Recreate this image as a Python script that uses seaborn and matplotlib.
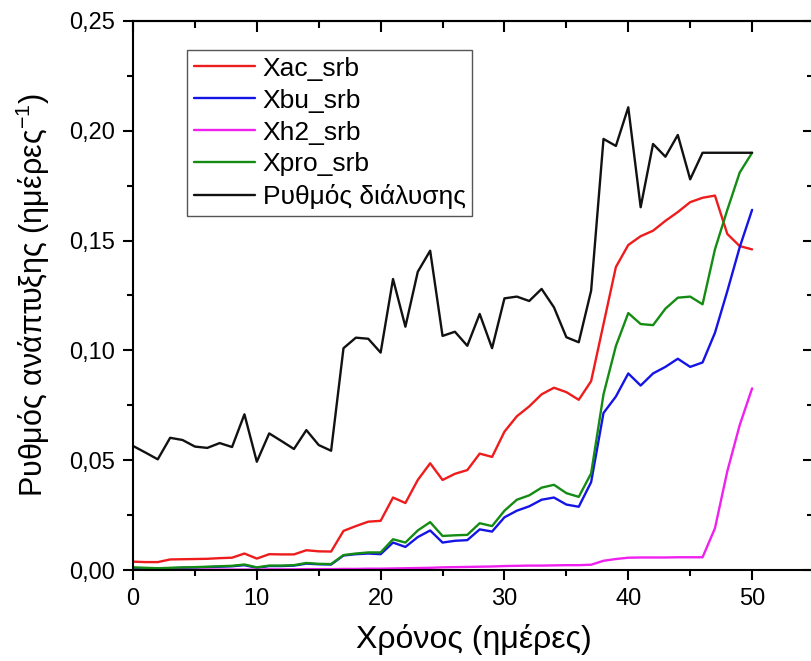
import numpy as np
import pandas as pd
import matplotlib
matplotlib.use("Agg")
import matplotlib.pyplot as plt
import seaborn as sns
from matplotlib.ticker import MultipleLocator, FuncFormatter

# days
days = list(range(0, 51))

# values (ημέρες^-1)
xac_srb = [0.0038, 0.0036, 0.0036, 0.0048, 0.0049, 0.0050, 0.0051, 0.0054, 0.0056, 0.0075,
           0.0052, 0.0072, 0.0071, 0.0071, 0.0090, 0.0085, 0.0084, 0.0178, 0.0200, 0.0220,
           0.0224, 0.0330, 0.0305, 0.0410, 0.0486, 0.0410, 0.0438, 0.0455, 0.0530, 0.0515,
           0.0630, 0.0700, 0.0745, 0.0800, 0.0830, 0.0810, 0.0775, 0.0860, 0.1120, 0.1380,
           0.1480, 0.1520, 0.1545, 0.1590, 0.1630, 0.1675, 0.1695, 0.1705, 0.1530, 0.1475,
           0.1460]
xbu_srb = [0.0009, 0.0007, 0.0006, 0.0008, 0.0010, 0.0011, 0.0013, 0.0015, 0.0017, 0.0022,
           0.0010, 0.0018, 0.0018, 0.0020, 0.0029, 0.0026, 0.0025, 0.0066, 0.0072, 0.0075,
           0.0072, 0.0125, 0.0105, 0.0150, 0.0180, 0.0125, 0.0133, 0.0136, 0.0185, 0.0175,
           0.0240, 0.0270, 0.0290, 0.0320, 0.0330, 0.0298, 0.0288, 0.0400, 0.0715, 0.0790,
           0.0895, 0.0840, 0.0895, 0.0925, 0.0962, 0.0925, 0.0945, 0.1080, 0.1270, 0.1470,
           0.1640]
xh2_srb = [0.0000, 0.0000, 0.0001, 0.0001, 0.0001, 0.0001, 0.0002, 0.0002, 0.0002, 0.0002,
           0.0002, 0.0003, 0.0003, 0.0003, 0.0004, 0.0004, 0.0004, 0.0005, 0.0005, 0.0006,
           0.0006, 0.0007, 0.0008, 0.0009, 0.0010, 0.0012, 0.0013, 0.0014, 0.0015, 0.0016,
           0.0018, 0.0019, 0.0020, 0.0020, 0.0021, 0.0022, 0.0022, 0.0024, 0.0042, 0.0050,
           0.0056, 0.0057, 0.0057, 0.0057, 0.0058, 0.0058, 0.0058, 0.0190, 0.0450, 0.0660,
           0.0827]
xpro_srb = [0.0012, 0.0010, 0.0008, 0.0010, 0.0012, 0.0013, 0.0015, 0.0017, 0.0019, 0.0025,
            0.0012, 0.0020, 0.0020, 0.0022, 0.0032, 0.0028, 0.0027, 0.0068, 0.0075, 0.0080,
            0.0080, 0.0140, 0.0125, 0.0180, 0.0218, 0.0155, 0.0158, 0.0160, 0.0213, 0.0200,
            0.0270, 0.0320, 0.0340, 0.0375, 0.0388, 0.0350, 0.0333, 0.0440, 0.0800, 0.1020,
            0.1170, 0.1120, 0.1115, 0.1190, 0.1240, 0.1245, 0.1210, 0.1460, 0.1640, 0.1810,
            0.1900]
dissolution = [0.0565, 0.0535, 0.0504, 0.0602, 0.0592, 0.0562, 0.0556, 0.0578, 0.0560, 0.0709,
               0.0493, 0.0622, 0.0587, 0.0551, 0.0637, 0.0569, 0.0543, 0.1010, 0.1058, 0.1053,
               0.0990, 0.1325, 0.1108, 0.1358, 0.1454, 0.1066, 0.1085, 0.1021, 0.1166, 0.1010,
               0.1237, 0.1245, 0.1225, 0.1280, 0.1196, 0.1060, 0.1037, 0.1272, 0.1963, 0.1931,
               0.2107, 0.1652, 0.1940, 0.1882, 0.1981, 0.1779, 0.1900, 0.1900, 0.1900, 0.1900,
               0.1900]

series_names = ["Xac_srb", "Xbu_srb", "Xh2_srb", "Xpro_srb", "Ρυθμός διάλυσης"]
series_vals = [xac_srb, xbu_srb, xh2_srb, xpro_srb, dissolution]
colors = ["#ee1c1c", "#1414e6", "#f020f0", "#148c14", "#111111"]

df = pd.concat([pd.DataFrame({"day": days, "rate": v, "series": n})
                for n, v in zip(series_names, series_vals)], ignore_index=True)

sns.set_style("ticks", {"axes.edgecolor": "black", "text.color": "black",
                        "xtick.color": "black", "ytick.color": "black",
                        "axes.labelcolor": "black"})
plt.rcParams["font.family"] = ["Liberation Sans", "DejaVu Sans"]
plt.rcParams["mathtext.default"] = "regular"

fig = plt.figure(figsize=(8.11, 6.61), dpi=100)
ax = fig.add_axes([133 / 811, 91 / 661, 681 / 811, 549 / 661])

sns.lineplot(data=df, x="day", y="rate", hue="series", hue_order=series_names,
             palette=dict(zip(series_names, colors)), linewidth=1.7, sort=False, ax=ax)

ax.set_xlim(0, 55)
ax.set_ylim(0, 0.25)

ax.xaxis.set_major_locator(MultipleLocator(10))
ax.xaxis.set_minor_locator(MultipleLocator(5))
ax.yaxis.set_major_locator(MultipleLocator(0.05))
ax.yaxis.set_minor_locator(MultipleLocator(0.025))
ax.yaxis.set_major_formatter(FuncFormatter(lambda v, p: f"{v:.2f}".replace(".", ",")))
ax.tick_params(which="major", direction="out", length=7, width=1.5, labelsize=17, pad=6)
ax.tick_params(which="minor", direction="out", length=4, width=1.5)

# inward ticks on top and right
top = ax.secondary_xaxis("top")
top.xaxis.set_major_locator(MultipleLocator(10))
top.xaxis.set_minor_locator(MultipleLocator(5))
top.tick_params(which="major", direction="in", length=8, width=1.5, labeltop=False)
top.tick_params(which="minor", direction="in", length=5, width=1.5)
right = ax.secondary_yaxis("right")
right.yaxis.set_major_locator(MultipleLocator(0.05))
right.yaxis.set_minor_locator(MultipleLocator(0.025))
right.tick_params(which="major", direction="in", length=8, width=1.5, labelright=False)
right.tick_params(which="minor", direction="in", length=5, width=1.5)

for sp in list(ax.spines.values()) + [top.spines["top"], right.spines["right"]]:
    sp.set_linewidth(1.5)
    sp.set_color("black")

ax.set_xlabel("Χρόνος (ημέρες)", fontsize=23, labelpad=10)
ax.set_ylabel("Ρυθμός ανάπτυξης (ημέρες$^{-1}$)", fontsize=22, labelpad=12)

ax.legend(loc="upper left", bbox_to_anchor=(0.08, 0.947), fontsize=19,
          frameon=True, fancybox=False, framealpha=1, edgecolor="#555555",
          handlelength=2.3, handletextpad=0.3, labelspacing=0.3, borderpad=0.25,
          borderaxespad=0)
ax.get_legend().get_frame().set_linewidth(1.0)

fig.savefig("out.png", dpi=100)
